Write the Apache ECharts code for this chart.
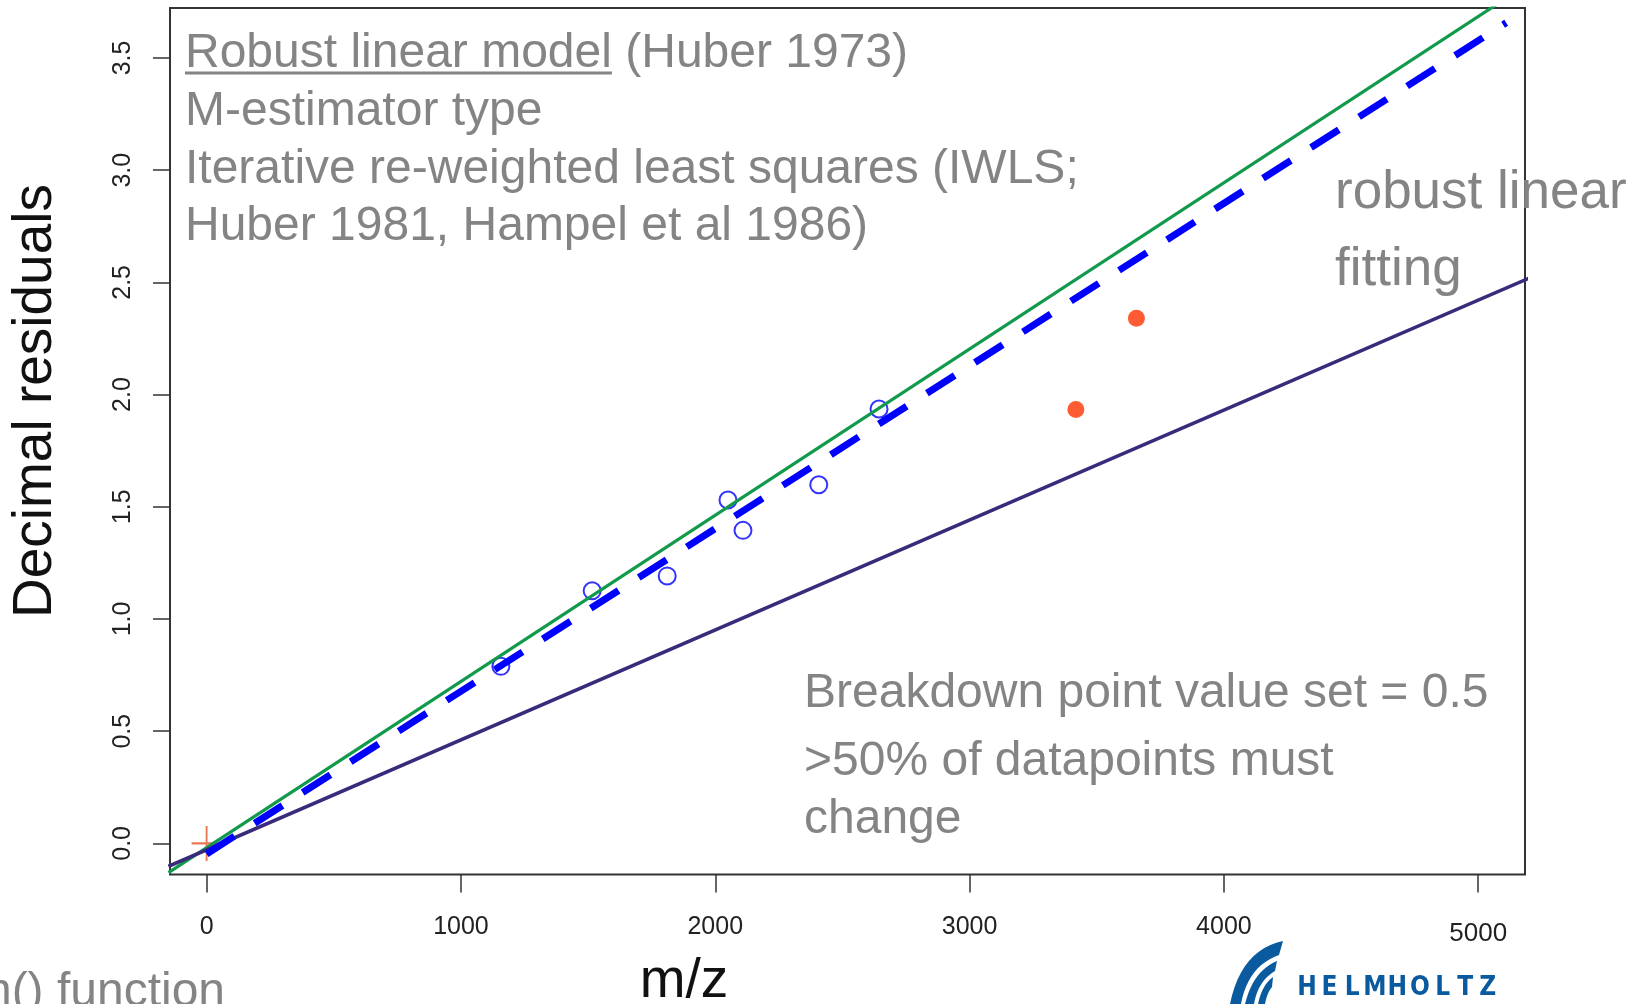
<!DOCTYPE html>
<html>
<head>
<meta charset="utf-8">
<title>Robust linear model</title>
<script src="https://cdn.jsdelivr.net/npm/echarts@6/dist/echarts.min.js"></script>
<style>
  html, body { margin: 0; padding: 0; background: #ffffff; }
  #chart { width: 1640px; height: 1004px; }
</style>
</head>
<body>
<div id="chart"></div>
<script>
// Calibrants used for the fit (open circles)
const calibMz = [1157, 1516, 1811, 2050, 2109, 2407, 2644];
const calibResidual = [0.789, 1.126, 1.192, 1.530, 1.395, 1.598, 1.936];

// Outlying points (filled)
const outlierMz = [3418, 3656];
const outlierResidual = [1.934, 2.340];

// Origin marker
const originMz = [0];
const originResidual = [0];

// Fitted lines, given by their end points
const lsLineMz = [-150, 5200];
const lsLineResidual = [-0.130, 3.833];
const lmLineMz = [-150, 5200];
const lmLineResidual = [-0.102, 2.519];
const rlmLineMz = [0, 5110];
const rlmLineResidual = [-0.047, 3.657];

// Axis ticks
const mzTicks = [0, 1000, 2000, 3000, 4000, 5000];
const residualTicks = [0, 0.5, 1, 1.5, 2, 2.5, 3, 3.5];

const zip = (xs, ys) => xs.map((x, i) => [x, ys[i]]);

const FONT = '"Liberation Sans", Arial, Helvetica, sans-serif';
const GREY = '#848484';

function textWidth(str, size) {
  const c = document.createElement('canvas').getContext('2d');
  c.font = size + 'px ' + FONT;
  return c.measureText(str).width;
}

// quadratic curve sampled to points (for the logo outline)
function quad(p0, c, p1, n) {
  const pts = [];
  for (let i = 0; i <= n; i++) {
    const t = i / n, u = 1 - t;
    pts.push([u * u * p0[0] + 2 * u * t * c[0] + t * t * p1[0],
              u * u * p0[1] + 2 * u * t * c[1] + t * t * p1[1]]);
  }
  return pts;
}
function band(outer, inner) {
  // outer: [start, ctrl, end], inner: [start, ctrl, end]; both run top-right to bottom-left
  return quad(outer[0], outer[1], outer[2], 12).concat(quad(inner[2], inner[1], inner[0], 12));
}

const chart = echarts.init(document.getElementById('chart'), null, { renderer: 'canvas' });

const headLeft = 185;
const underlineW = textWidth('Robust linear model', 48);

function greyText(str, x, y, size) {
  return {
    type: 'text', x: x, y: y, z: 10,
    style: { text: str, fill: GREY, fontSize: size, fontFamily: FONT,
             textAlign: 'left', textVerticalAlign: 'middle' }
  };
}

// Helmholtz word mark, letter by letter for the wide tracking
const brand = 'HELMHOLTZ';
const brandEls = brand.split('').map((ch, i) => ({
  type: 'text', x: 1307 + i * 22.6, y: 988, z: 10,
  style: { text: ch, fill: '#0a5a9f', fontSize: 26, fontWeight: 'bold',
           fontFamily: '"DejaVu Sans Condensed", ' + FONT,
           textAlign: 'center', textVerticalAlign: 'middle' }
}));

const wing = [
  band([[1283, 941], [1241, 950], [1230, 1004]], [[1279, 955], [1248, 966], [1241, 1004]]),
  band([[1277, 961], [1253, 971], [1245, 1004]], [[1275, 971], [1258, 981], [1254, 1004]]),
  band([[1273, 977], [1262, 985], [1258, 1004]], [[1272, 987], [1267, 993], [1265, 1004]])
].map(pts => ({ type: 'polygon', z: 10, shape: { points: pts }, style: { fill: '#0a5a9f' } }));

const option = {
  animation: false,
  backgroundColor: '#ffffff',
  grid: {
    left: 170, top: 8, width: 1355, height: 866.5,
    show: true, borderColor: '#333333', borderWidth: 2,
    backgroundColor: 'transparent',
    containLabel: false, outerBoundsMode: 'none'
  },
  xAxis: {
    type: 'value', min: -144, max: 5184,
    splitLine: { show: false },
    axisLine: { show: false, onZero: false },
    axisTick: { show: true, inside: false, length: 18, customValues: mzTicks,
                lineStyle: { color: '#333333', width: 1.5 } },
    axisLabel: {
      customValues: mzTicks, margin: 40, fontSize: 25, color: '#222222', fontFamily: FONT,
      formatter: v => v === 5000 ? '{low|5000}' : String(v),
      rich: { low: { fontSize: 26, color: '#222222', fontFamily: FONT, padding: [6, 0, 0, 0] } }
    }
  },
  yAxis: {
    type: 'value', min: -0.1386, max: 3.7228,
    splitLine: { show: false },
    axisLine: { show: false, onZero: false },
    axisTick: { show: true, inside: false, length: 17, customValues: residualTicks,
                lineStyle: { color: '#333333', width: 1.5 } },
    axisLabel: {
      customValues: residualTicks, rotate: 90, margin: 34, fontSize: 25,
      color: '#222222', fontFamily: FONT,
      formatter: v => v.toFixed(1)
    }
  },
  series: [
    {
      name: 'calibrants', type: 'scatter', data: zip(calibMz, calibResidual),
      symbol: 'circle', symbolSize: 17, z: 3,
      itemStyle: { color: 'rgba(0,0,0,0)', borderColor: '#0000ff', borderWidth: 2 }
    },
    {
      name: 'outliers', type: 'scatter', data: zip(outlierMz, outlierResidual),
      symbol: 'circle', symbolSize: 17, z: 3,
      itemStyle: { color: '#ff3300' }
    },
    {
      name: 'origin', type: 'scatter', data: zip(originMz, originResidual),
      symbol: 'path://M-1,-16 L1,-16 L1,16 L-1,16 Z M-16,-1 L16,-1 L16,1 L-16,1 Z',
      symbolSize: [30, 35], z: 3,
      itemStyle: { color: '#e4572a' }
    },
    {
      name: 'least squares', type: 'line', data: zip(lsLineMz, lsLineResidual),
      showSymbol: false, symbol: 'none', clip: true, z: 4,
      lineStyle: { color: '#119a4b', width: 3.2 }
    },
    {
      name: 'lm', type: 'line', data: zip(lmLineMz, lmLineResidual),
      showSymbol: false, symbol: 'none', clip: true, z: 4,
      lineStyle: { color: '#3a2a7c', width: 3.5 }
    },
    {
      name: 'rlm', type: 'line', data: zip(rlmLineMz, rlmLineResidual),
      showSymbol: false, symbol: 'none', clip: true, z: 5,
      lineStyle: { color: '#0000ff', width: 7, type: [33, 24], cap: 'butt' }
    }
  ],
  graphic: [
    greyText('Robust linear model (Huber 1973)', headLeft, 53.5, 48),
    {
      type: 'line', z: 10,
      shape: { x1: headLeft, y1: 73, x2: headLeft + underlineW, y2: 73 },
      style: { stroke: GREY, lineWidth: 3 }
    },
    greyText('M-estimator type', headLeft, 111.5, 48),
    greyText('Iterative re-weighted least squares (IWLS;', headLeft, 169.5, 48),
    greyText('Huber 1981, Hampel et al 1986)', headLeft, 226.5, 48),
    greyText('robust linear', 1335, 193.5, 53),
    greyText('fitting', 1335, 270, 53),
    greyText('Breakdown point value set = 0.5', 804, 694, 48),
    greyText('>50% of datapoints must', 804, 761.5, 48),
    greyText('change', 804, 820, 48),
    greyText('rlm() function', -55, 993, 48),
    {
      type: 'text', x: 36, y: 401, rotation: Math.PI / 2, z: 10,
      style: { text: 'Decimal residuals', fill: '#111111', fontSize: 55, fontFamily: FONT,
               textAlign: 'center', textVerticalAlign: 'middle' }
    },
    {
      type: 'text', x: 684, y: 982, z: 10,
      style: { text: 'm/z', fill: '#111111', fontSize: 55, fontFamily: FONT,
               textAlign: 'center', textVerticalAlign: 'middle' }
    }
  ].concat(brandEls, wing)
};

chart.setOption(option);
</script>
</body>
</html>
